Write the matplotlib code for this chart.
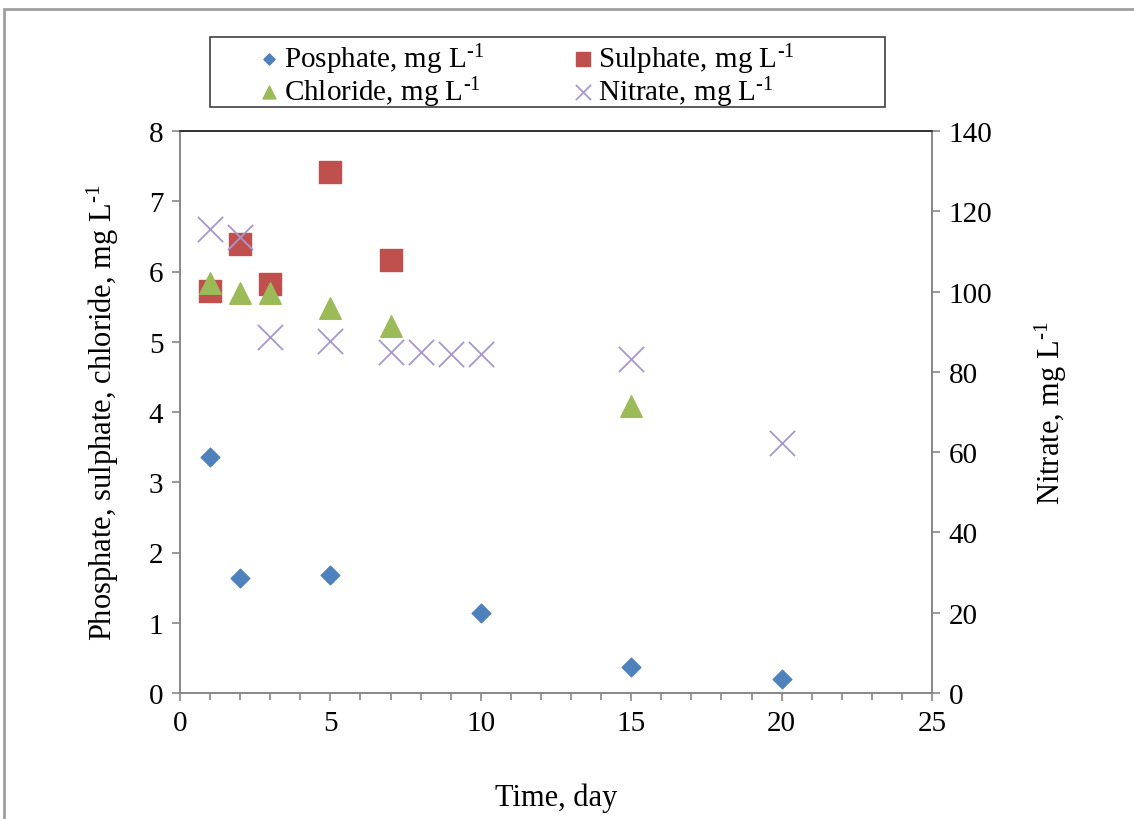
import matplotlib
matplotlib.use('Agg')
from matplotlib import pyplot as plt
from matplotlib.patches import Rectangle
from matplotlib.ticker import MultipleLocator

plt.rcParams['font.family'] = ['Liberation Serif', 'DejaVu Serif']
plt.rcParams['mathtext.fontset'] = 'custom'
plt.rcParams['mathtext.rm'] = 'Liberation Serif'
plt.rcParams['mathtext.it'] = 'Liberation Serif'

phosphate_day = [1, 2, 5, 10, 15, 20]
phosphate = [3.36, 1.64, 1.68, 1.14, 0.37, 0.20]

sulphate_day = [1, 2, 3, 5, 7]
sulphate = [5.72, 6.39, 5.82, 7.41, 6.17]

chloride_day = [1, 2, 3, 5, 7, 15]
chloride = [5.84, 5.70, 5.70, 5.48, 5.22, 4.08]

nitrate_day = [1, 2, 3, 5, 7, 8, 9, 10, 15, 20]
nitrate = [115.5, 113.5, 88.8, 87.8, 85.0, 85.0, 84.5, 84.5, 83.2, 62.2]

# superscript with a real hyphen (U+2010) instead of a minus sign
unit = ', mg L$^{\\mathrm{\u2010}1}$'

fig = plt.figure(figsize=(11.34, 8.2), dpi=100)
fig.patches.append(Rectangle((4 / 1134, -0.1), 1.2, (810 / 820) + 0.1, transform=fig.transFigure,
                             fill=False, edgecolor='#a0a0a0', linewidth=2))
# legend box
fig.patches.append(Rectangle((210 / 1134, 1 - 108 / 820), 675 / 1134, 70 / 820,
                             transform=fig.transFigure, fill=False,
                             edgecolor='#404040', linewidth=1.2))

ax = fig.add_axes([180 / 1134, 126 / 820, 752 / 1134, 562 / 820])
ax2 = ax.twinx()

p1 = ax.scatter(phosphate_day, phosphate, marker='D', s=90, color='#4F81BD', zorder=3)
p2 = ax.scatter(sulphate_day, sulphate, marker='s', s=260, color='#C0504D', zorder=3)
p3 = ax.scatter(chloride_day, chloride, marker='^', s=240, color='#9BBB59', zorder=4)
p4 = ax2.scatter(nitrate_day, nitrate, marker='x', s=330, color='#A897CF', linewidths=1.3, zorder=5)

ax.set_xlim(0, 25)
ax.set_ylim(0, 8)
ax2.set_ylim(0, 140)
ax.set_xticks(range(0, 26, 5))
ax.xaxis.set_minor_locator(MultipleLocator(1))
ax.set_yticks(range(0, 9))
ax2.set_yticks(range(0, 141, 20))

for a in (ax, ax2):
    for s in a.spines.values():
        s.set_color('#888888')
        s.set_linewidth(1.2)
    a.spines['top'].set_color('#303030')
    a.tick_params(labelsize=21, length=6, width=1.2, color='#888888', direction='out', pad=6)
    a.tick_params(which='minor', length=5, width=1.2, color='#888888')

ax.set_xlabel('Time, day', fontsize=22, labelpad=34)
ax.set_ylabel('Phosphate, sulphate, chloride' + unit, fontsize=22, labelpad=20)
ax2.set_ylabel('Nitrate' + unit, fontsize=22, labelpad=29)

leg = fig.legend([p1, p3, p2, p4],
                 ['Posphate' + unit, 'Chloride' + unit,
                  'Sulphate' + unit, 'Nitrate' + unit],
                 ncol=2, loc='center', bbox_to_anchor=(526 / 1134, 1 - 76 / 820),
                 fontsize=21, frameon=False, handletextpad=0.1,
                 handlelength=0.8, columnspacing=3.0, borderpad=0.0, labelspacing=-0.05,
                 markerscale=0.6, scatterpoints=1, borderaxespad=0)

fig.savefig('out.png', dpi=100)
